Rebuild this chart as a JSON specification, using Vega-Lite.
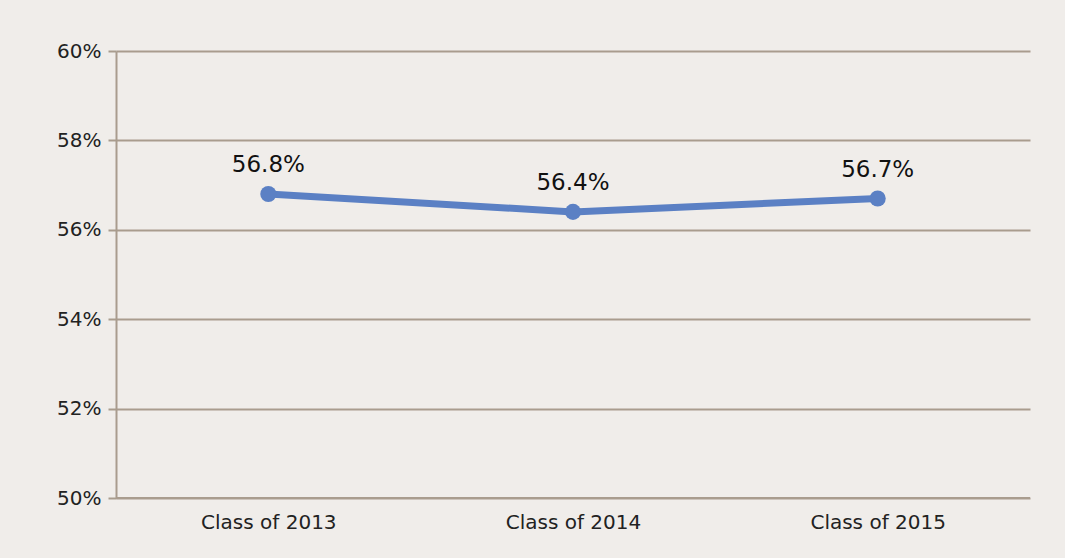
{
  "$schema": "https://vega.github.io/schema/vega-lite/v6.json",
  "width": 914,
  "height": 447,
  "autosize": {"type": "none"},
  "padding": {"left": 116, "top": 51, "right": 35, "bottom": 60},
  "background": "#f0edea",
  "config": {
    "view": {"stroke": null},
    "font": "DejaVu Sans"
  },
  "data": {
    "values": [
      {"cls": "Class of 2013", "rate": 0.568, "label": "56.8%"},
      {"cls": "Class of 2014", "rate": 0.564, "label": "56.4%"},
      {"cls": "Class of 2015", "rate": 0.567, "label": "56.7%"}
    ]
  },
  "encoding": {
    "x": {
      "field": "cls", "type": "ordinal", "sort": null,
      "scale": {"type": "point", "padding": 0.5},
      "axis": {
        "title": null, "labelAngle": 0, "ticks": false, "domain": false,
        "labelFontSize": 20, "labelColor": "#222222", "labelPadding": 14,
        "labelFont": "DejaVu Sans"
      }
    },
    "y": {
      "field": "rate", "type": "quantitative",
      "scale": {"domain": [0.5, 0.6], "nice": false, "zero": false},
      "axis": {
        "title": null, "format": ".0%", "values": [0.5, 0.52, 0.54, 0.56, 0.58, 0.6],
        "grid": true, "gridColor": "#a99c8e", "gridWidth": 2, "gridOpacity": 1,
        "domain": true, "domainColor": "#a99c8e", "domainWidth": 2,
        "ticks": true, "tickColor": "#a99c8e", "tickWidth": 2, "tickSize": 8,
        "labelFontSize": 20, "labelColor": "#222222", "labelPadding": 7,
        "labelFont": "DejaVu Sans"
      }
    }
  },
  "layer": [
    {
      "mark": {"type": "rule", "color": "#a99c8e", "strokeWidth": 2},
      "data": {"values": [{"v": 0.5}]},
      "encoding": {"y": {"field": "v", "type": "quantitative"}, "x": null}
    },
    {
      "mark": {"type": "line", "color": "#5b80c4", "strokeWidth": 7}
    },
    {
      "mark": {"type": "point", "filled": true, "color": "#5b80c4", "size": 260, "opacity": 1}
    },
    {
      "mark": {"type": "text", "baseline": "alphabetic", "dy": -22, "fontSize": 23, "fontWeight": 500, "color": "#111111", "font": "DejaVu Sans"},
      "encoding": {"text": {"field": "label"}}
    }
  ]
}
